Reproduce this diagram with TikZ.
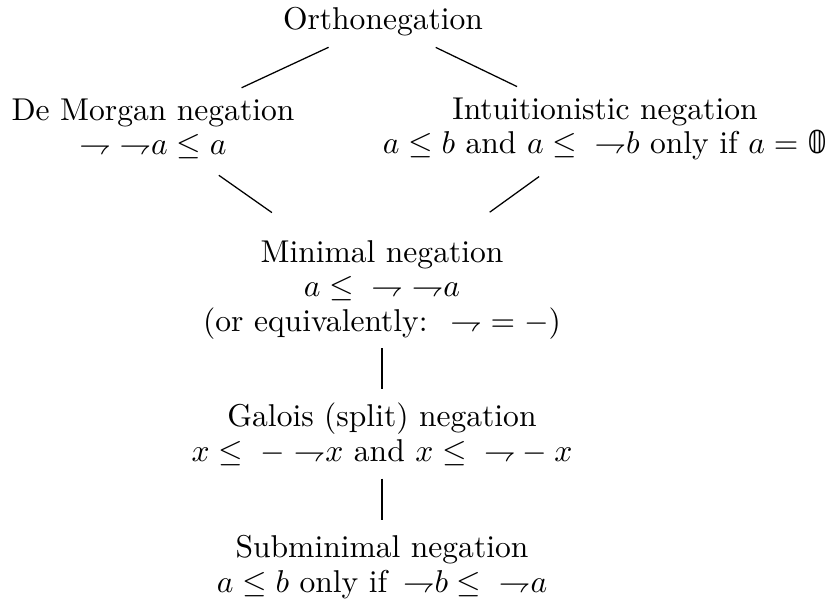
\documentclass[tikz,border=0pt]{standalone}
\usepackage{amsmath,amssymb}
\usepackage{fontspec}
\newfontfamily\dstruck{DejaVu Sans}
\usepackage{tikz}

\newcommand{\nneg}{{\rightharpoondown}}

\begin{document}
\begin{tikzpicture}[x=0.01114cm, y=-0.01114cm,
  neg/.style={align=center, inner sep=2pt},
  link/.style={shorten <=3pt, shorten >=3pt}]
  \useasboundingbox (0,0) rectangle (830,605);
  \node[neg] (ortho) at (383,22) {Orthonegation};
  \node[neg] (demorgan) at (153,129) {De Morgan negation\\[-1pt]
    $\nneg\;\nneg a \leq a$};
  \node[neg] (intuit) at (605,129) {Intuitionistic negation\\[-1pt]
    $a \leq b$ and $a \leq\;\nneg b$ only if $a = \text{\dstruck 𝟘}$};
  \node[neg] (minimal) at (382,290) {Minimal negation\\[-1pt]
    $a \leq\;\nneg\;\nneg a$\\[-1pt]
    (or equivalently: \;$\nneg = -$)};
  \node[neg] (galois) at (382,434) {Galois (split) negation\\[-1pt]
    $x \leq\; -\;\nneg x$ and $x \leq\;\nneg - x$};
  \node[neg] (submin) at (382,567) {Subminimal negation\\[-1pt]
    $a \leq b$ only if \,$\nneg b \leq\;\nneg a$};
  \draw[link] (ortho) -- (demorgan);
  \draw[link] (ortho) -- (intuit);
  \draw[link, shorten <=5pt, shorten >=11.5pt] (demorgan) -- (minimal);
  \draw[link, shorten <=5pt, shorten >=11.5pt] (intuit) -- (minimal);
  \draw[link, shorten <=0.5pt, shorten >=2pt] (minimal) -- (galois);
  \draw[link, shorten <=2pt, shorten >=2.5pt] (galois) -- (submin);
\end{tikzpicture}
\end{document}
